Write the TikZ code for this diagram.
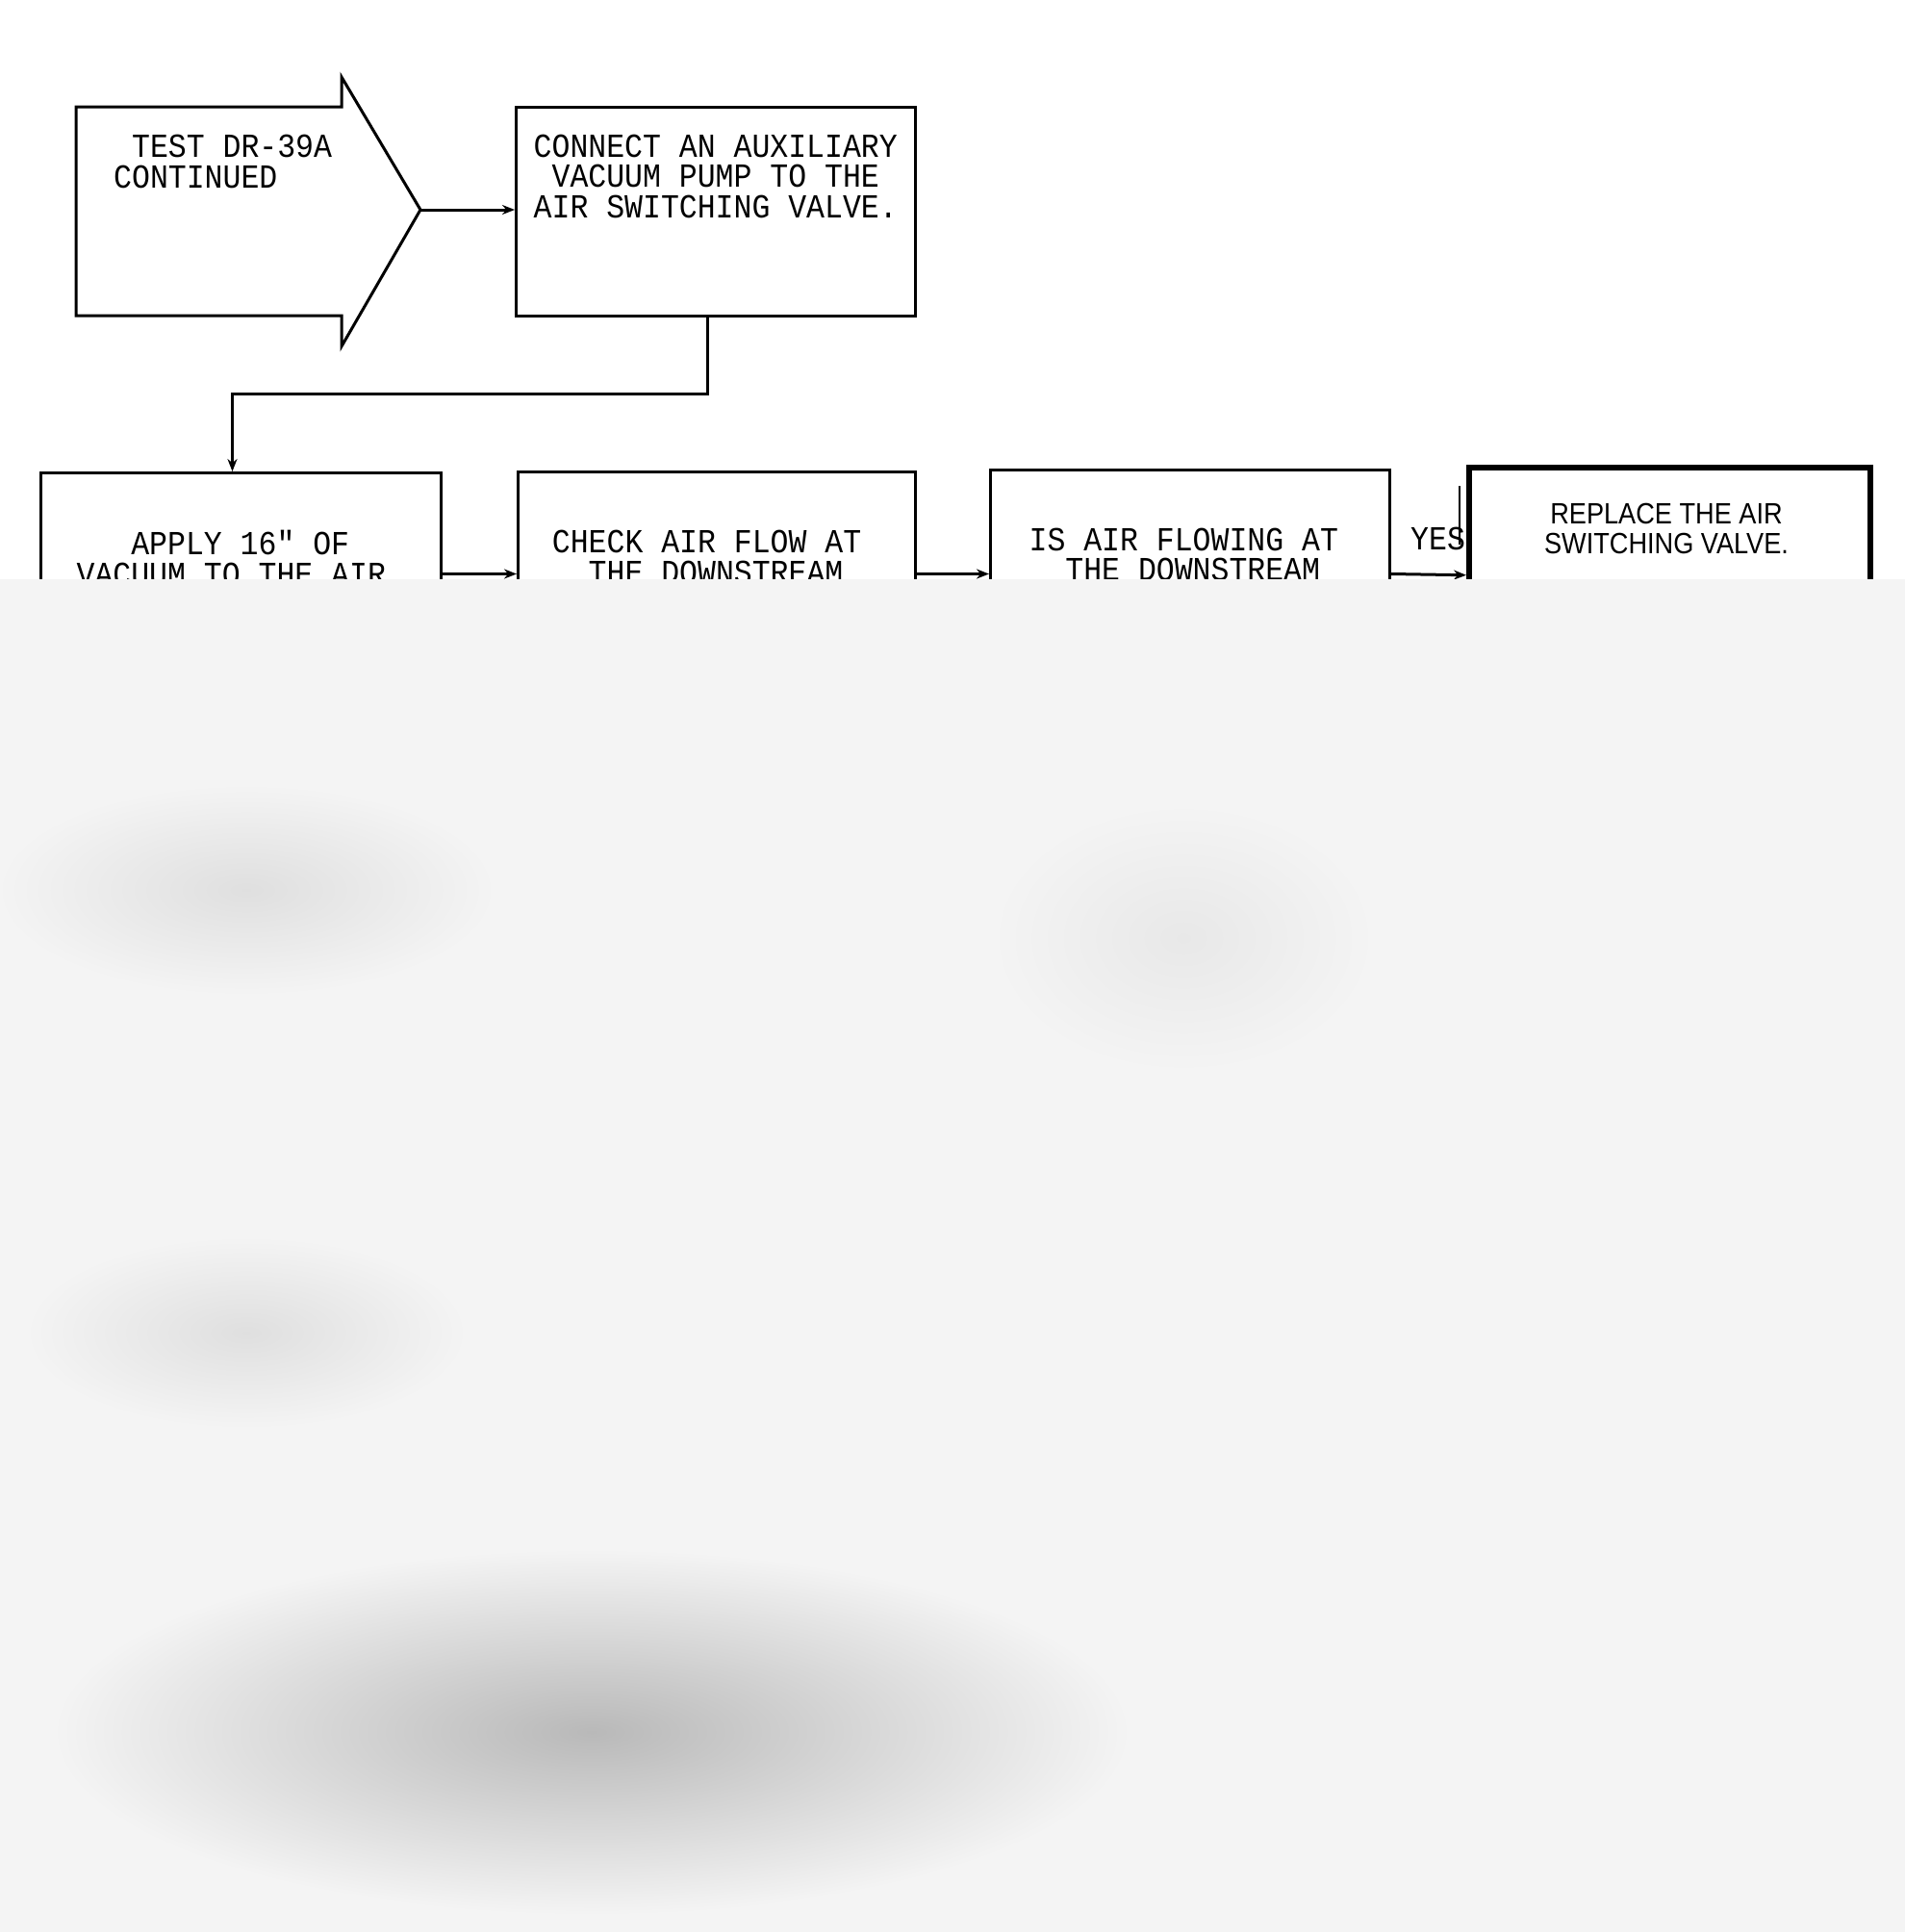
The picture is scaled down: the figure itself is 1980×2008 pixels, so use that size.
\documentclass[tikz,border=0pt]{standalone}
\usepackage{fontspec}
\usepackage{graphicx}
\usetikzlibrary{arrows.meta,calc}
\newfontfamily\monof{Liberation Mono}
\newfontfamily\sansf{Liberation Sans}
\definecolor{bgc}{HTML}{F4F4F4}
\newcommand{\mt}[1]{\scalebox{0.9}[1]{#1}}
\newcommand{\stt}[1]{\scalebox{0.89}[1]{#1}}
\tikzset{
  flowbox/.style={draw=black, line width=3pt, inner sep=0pt, anchor=north west},
  thickbox/.style={flowbox, line width=5.5pt},
  monotext/.style={font=\monof\fontsize{35}{31.5}\selectfont, inner sep=0pt, align=left, anchor=north west},
  sanstext/.style={font=\sansf\fontsize{30.5}{31}\selectfont, inner sep=0pt, align=center, anchor=north},
  conn/.style={line width=3pt, -{Stealth[length=13pt,width=10pt]}}
}
\begin{document}
\begin{tikzpicture}[x=1pt,y=-1pt]
\useasboundingbox (0,0) rectangle (1980,2008);
\fill[white] (0,0) rectangle (1980,2008);

% start arrow shape
\draw[line width=3pt, line join=miter] (79,111) -- (355,111) -- (355,80) -- (437,218) -- (355,360) -- (355,328) -- (79,328) -- cycle;
\coordinate (tip) at (437,218);

% boxes
\node[flowbox, minimum width=415pt, minimum height=217pt] (connect) at (535,110) {};
\node[flowbox, minimum width=416pt, minimum height=210pt] (apply) at (41,490) {};
\node[flowbox, minimum width=413pt, minimum height=212pt] (check) at (537,489) {};
\node[flowbox, minimum width=415pt, minimum height=216pt] (isair) at (1028,487) {};
\node[thickbox, minimum width=417pt, minimum height=224pt] (replace) at (1524,483) {};

% connectors
\draw[conn] (tip) -- (tip -| connect.west);
\draw[conn] ([xshift=-9pt]connect.south) -- ++(0,79) -| ([xshift=-9pt]apply.north);
\draw[conn] (apply.east) -- (check.west);
\draw[conn] (check.east) -- (isair.west);
\draw[conn] (isair.east) -- (replace.west);
\node[monotext] (yes) at (1466,548) {\mt{YES}};
\draw[line width=2pt] (1517,505) -- (1517,566);

% texts
\node[monotext] (ttest) at (118,140) {\mt{\phantom{X}TEST DR-39A}\\\mt{CONTINUED}};
\node[monotext] (tconn) at (554.5,139.5) {\mt{CONNECT AN AUXILIARY}\\\mt{\phantom{X}VACUUM PUMP TO THE}\\\mt{AIR SWITCHING VALVE.}};
\node[monotext] (tapply) at (79.4,551) {\mt{\phantom{XXX}APPLY 16" OF}\\\mt{VACUUM TO THE AIR}};
\node[monotext] (tcheck) at (573.7,551) {\mt{CHECK AIR FLOW AT}\\\mt{\phantom{XX}THE DOWNSTREAM}};
\node[monotext] (tis) at (1069.4,548.5) {\mt{IS AIR FLOWING AT}\\\mt{\phantom{XX}THE DOWNSTREAM}};
\node[sanstext] (trepl) at (1732,523) {\stt{REPLACE THE AIR}\\\stt{SWITCHING VALVE.}};

% blurred lower area
\fill[bgc] (0,602) rectangle (1980,2008);
\shade[inner color=gray!55, outer color=bgc] (615,1800) ellipse [x radius=560pt, y radius=190pt];
\shade[inner color=gray!25, outer color=bgc] (256,925) ellipse [x radius=260pt, y radius=110pt];
\shade[inner color=gray!25, outer color=bgc] (256,1385) ellipse [x radius=230pt, y radius=100pt];
\shade[inner color=gray!18, outer color=bgc] (1230,975) ellipse [x radius=200pt, y radius=140pt];
\end{tikzpicture}
\end{document}
